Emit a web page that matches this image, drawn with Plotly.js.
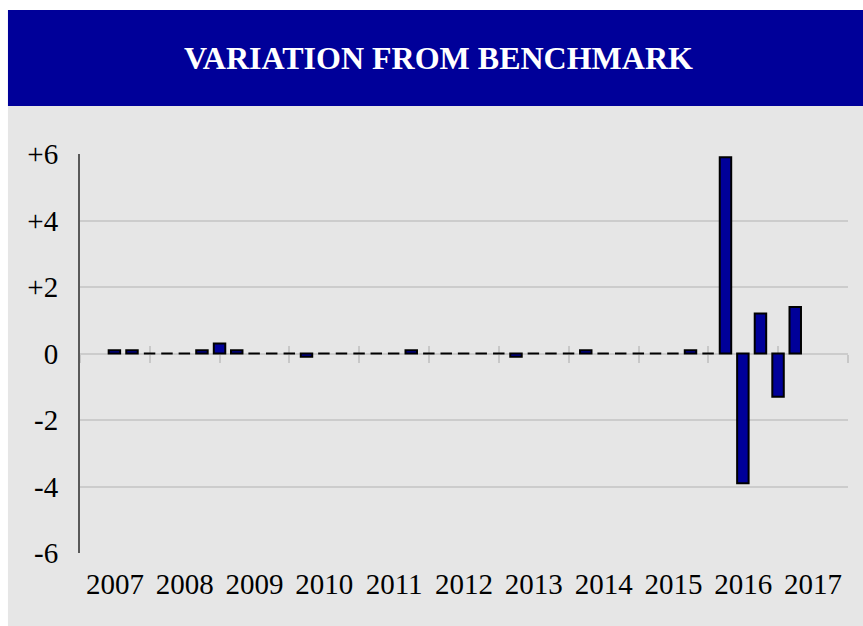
<!DOCTYPE html>
<html>
<head>
<meta charset="utf-8">
<script src="https://cdn.plot.ly/plotly-3.0.1.min.js"></script>
<style>
  html, body { margin: 0; padding: 0; background: #ffffff; }
  #chart { width: 863px; height: 626px; }
</style>
</head>
<body>
<div id="chart"></div>
<script>
// quarter-end dates of each reading
var quarters = [
    '2007-06-30', '2007-09-30', '2007-12-31',
    '2008-03-31', '2008-06-30', '2008-09-30', '2008-12-31',
    '2009-03-31', '2009-06-30', '2009-09-30', '2009-12-31',
    '2010-03-31', '2010-06-30', '2010-09-30', '2010-12-31',
    '2011-03-31', '2011-06-30', '2011-09-30', '2011-12-31',
    '2012-03-31', '2012-06-30', '2012-09-30', '2012-12-31',
    '2013-03-31', '2013-06-30', '2013-09-30', '2013-12-31',
    '2014-03-31', '2014-06-30', '2014-09-30', '2014-12-31',
    '2015-03-31', '2015-06-30', '2015-09-30', '2015-12-31',
    '2016-03-31', '2016-06-30', '2016-09-30', '2016-12-31',
    '2017-03-31'
];
var variation = [
    0.1, 0.1, 0,
    0, 0, 0.1, 0.3,
    0.1, 0, 0, 0,
    -0.1, 0, 0, 0,
    0, 0, 0.1, 0,
    0, 0, 0, 0,
    -0.1, 0, 0, 0,
    0.1, 0, 0, 0,
    0, 0, 0.1, 0,
    5.9, -3.9, 1.2, -1.3,
    1.4
];
var yTicks = [6, 4, 2, 0, -2, -4, -6];
var yLabels = ['+6', '+4', '+2', '0', '-2', '-4', '-6'];
var xRange = ['2007-01-01', '2018-01-01'];

var blue = '#000099';
var serif = 'Liberation Serif, Times New Roman, serif';
var DAY = 86400000;

var data = [{
    x: quarters,
    y: variation,
    type: 'bar',
    width: 60 * DAY,
    marker: {
        color: blue,
        line: {color: '#000000', width: 2}
    }
},
// empty traces so the two tick-only axes get drawn
{x: [], y: [], type: 'scatter', xaxis: 'x2', hoverinfo: 'skip'},
{x: [], y: [], type: 'scatter', xaxis: 'x3', hoverinfo: 'skip'}];

// little ticks crossing the zero line (one axis up, one down)
function zeroTicks(dir){
    return {
        type: 'date',
        range: xRange,
        overlaying: 'x',
        anchor: 'free',
        position: 0.5,
        side: 'bottom',
        layer: 'below traces',
        tick0: '2007-01-01',
        dtick: 'M12',
        ticks: dir,
        ticklen: 8,
        tickwidth: 2,
        tickcolor: '#c8c8c8',
        showticklabels: false,
        showgrid: false,
        showline: false,
        zeroline: false
    };
}

var layout = {
    width: 863,
    height: 626,
    margin: {l: 80, r: 15, t: 154, b: 73},
    paper_bgcolor: '#ffffff',
    plot_bgcolor: '#e6e6e6',
    showlegend: false,
    title: {
        text: '<b>VARIATION FROM BENCHMARK</b>',
        font: {family: serif, size: 32, color: '#ffffff'},
        xref: 'container', yref: 'container',
        x: 0.508, y: 0.907,
        xanchor: 'center', yanchor: 'middle'
    },
    xaxis: {
        type: 'date',
        range: xRange,
        tick0: '2007-01-01',
        dtick: 'M12',
        tickformat: '%Y',
        ticklabelmode: 'period',
        ticks: '',
        showgrid: false,
        showline: false,
        zeroline: false,
        ticklabelstandoff: 11,
        tickfont: {family: serif, size: 29, color: '#000000'}
    },
    xaxis2: zeroTicks('outside'),
    xaxis3: zeroTicks('inside'),
    yaxis: {
        range: [-6, 6],
        tickvals: yTicks,
        ticktext: yLabels,
        showgrid: true,
        gridcolor: '#cccccc',
        gridwidth: 2,
        zeroline: false,
        showline: true,
        linecolor: '#595959',
        linewidth: 2,
        ticks: '',
        ticklabelstandoff: 14,
        tickfont: {family: serif, size: 29, color: '#000000'}
    },
    shapes: [
        {   // grey panel
            type: 'rect', xref: 'paper', yref: 'paper', layer: 'below',
            x0: -0.0938, x1: 1.02, y0: -0.19, y1: 1.1203,
            fillcolor: '#e6e6e6', line: {width: 0}
        },
        {   // blue title band
            type: 'rect', xref: 'paper', yref: 'paper', layer: 'below',
            x0: -0.0938, x1: 1.02, y0: 1.1203, y1: 1.361,
            fillcolor: blue, line: {width: 0}
        }
    ]
};

Plotly.newPlot('chart', data, layout, {staticPlot: true});
</script>
</body>
</html>
